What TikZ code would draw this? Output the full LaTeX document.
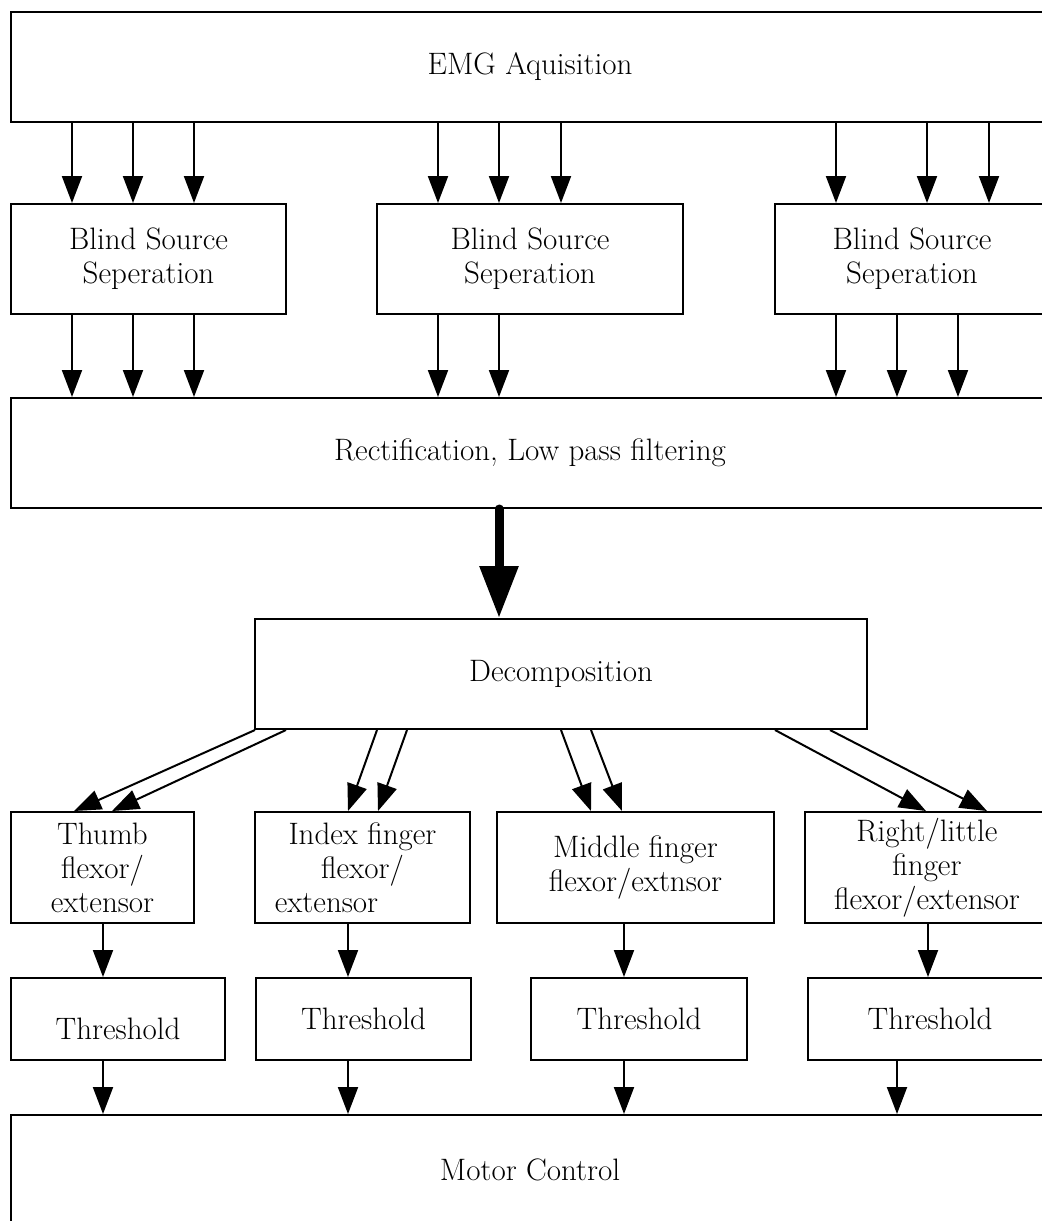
\documentclass[tikz,border=0pt]{standalone}
\usetikzlibrary{arrows.meta,positioning}
\tikzset{
  blk/.style={draw, line width=1pt, align=center, inner sep=0pt, font=\fontsize{15.5}{17}\selectfont},
  arr/.style={line width=1pt, -{Triangle[width=10pt,length=13.5pt]}},
  fatarr/.style={line width=4.5pt, line cap=round, -{Triangle[width=18.5pt,length=26pt]}}
}
\begin{document}
\begin{tikzpicture}[x=0.5pt, y=-0.5pt]
				\useasboundingbox (0,0) rectangle (1042,1221);
				\clip (0,0) rectangle (1042,1221);
				% boxes
				\node[blk, minimum width=519pt, minimum height=55pt] (emg) at (530,67) {EMG Aquisition};
				\node[blk, minimum width=137.5pt, minimum height=55pt] (bss1) at (148.5,259) {Blind Source\\Seperation};
				\node[blk, minimum width=153pt, minimum height=55pt] (bss2) at (530,259) {Blind Source\\Seperation};
				\node[blk, minimum width=137pt, minimum height=55pt] (bss3) at (912,259) {Blind Source\\Seperation};
				\node[blk, minimum width=519pt, minimum height=55pt] (rect) at (530,453) {Rectification, Low pass filtering};
				\node[blk, minimum width=306pt, minimum height=55pt] (decomp) at (561,674) {Decomposition};
				\node[blk, minimum width=91.5pt, minimum height=55.5pt] (thumb) at (102.5,867.5) {Thumb\\flexor/\\extensor};
				\node[blk, minimum width=107.5pt, minimum height=55.5pt] (index) at (362.5,867.5) {Index finger\\flexor/\\extensor\hspace*{36pt}};
				\node[blk, minimum width=138.5pt, minimum height=55.5pt] (middle) at (635.5,867.5) {Middle finger\\flexor/extnsor};
				\node[blk, minimum width=122pt, minimum height=55.5pt] (little) at (927,867.5) {Right/little\\finger\\flexor/extensor};
				\node[blk, minimum width=107pt, minimum height=41pt, text height=21pt] (th1) at (118,1019) {Threshold};
				\node[blk, minimum width=107.5pt, minimum height=41pt] (th2) at (363.5,1019) {Threshold};
				\node[blk, minimum width=108pt, minimum height=41pt] (th3) at (639,1019) {Threshold};
				\node[blk, minimum width=122pt, minimum height=41pt] (th4) at (930,1019) {Threshold};
				\node[blk, minimum width=519pt, minimum height=55pt] (motor) at (530,1170) {Motor Control};
				% acquisition to separation
				\draw[arr] (emg.south -| 72,0) -- (bss1.north -| 72,0);
				\draw[arr] (emg.south -| 133,0) -- (bss1.north -| 133,0);
				\draw[arr] (emg.south -| 194,0) -- (bss1.north -| 194,0);
				\draw[arr] (emg.south -| 438,0) -- (bss2.north -| 438,0);
				\draw[arr] (emg.south -| 499,0) -- (bss2.north -| 499,0);
				\draw[arr] (emg.south -| 561,0) -- (bss2.north -| 561,0);
				\draw[arr] (emg.south -| 836,0) -- (bss3.north -| 836,0);
				\draw[arr] (emg.south -| 927,0) -- (bss3.north -| 927,0);
				\draw[arr] (emg.south -| 989,0) -- (bss3.north -| 989,0);
				% separation to rectification
				\draw[arr] (bss1.south -| 72,0) -- (rect.north -| 72,0);
				\draw[arr] (bss1.south -| 133,0) -- (rect.north -| 133,0);
				\draw[arr] (bss1.south -| 194,0) -- (rect.north -| 194,0);
				\draw[arr] (bss2.south -| 438,0) -- (rect.north -| 438,0);
				\draw[arr] (bss2.south -| 499,0) -- (rect.north -| 499,0);
				\draw[arr] (bss3.south -| 836,0) -- (rect.north -| 836,0);
				\draw[arr] (bss3.south -| 897,0) -- (rect.north -| 897,0);
				\draw[arr] (bss3.south -| 958,0) -- (rect.north -| 958,0);
				\draw[fatarr] (rect.south -| 499,0) -- (decomp.north -| 499,0);
				% decomposition to fingers
				\draw[arr] (decomp.south -| 255,0) -- (thumb.north -| 74,0);
				\draw[arr] (decomp.south -| 286,0) -- (thumb.north -| 112,0);
				\draw[arr] (decomp.south -| 377,0) -- (index.north -| 348,0);
				\draw[arr] (decomp.south -| 407,0) -- (index.north -| 378,0);
				\draw[arr] (decomp.south -| 561,0) -- (middle.north -| 591,0);
				\draw[arr] (decomp.south -| 591,0) -- (middle.north -| 622,0);
				\draw[arr] (decomp.south -| 775,0) -- (little.north -| 926,0);
				\draw[arr] (decomp.south -| 830,0) -- (little.north -| 987,0);
				% fingers to threshold to motor
				\draw[arr] (thumb.south -| 103,0) -- (th1.north -| 103,0);
				\draw[arr] (index.south -| 348,0) -- (th2.north -| 348,0);
				\draw[arr] (middle.south -| 624,0) -- (th3.north -| 624,0);
				\draw[arr] (little.south -| 928,0) -- (th4.north -| 928,0);
				\draw[arr] (th1.south -| 103,0) -- (motor.north -| 103,0);
				\draw[arr] (th2.south -| 348,0) -- (motor.north -| 348,0);
				\draw[arr] (th3.south -| 624,0) -- (motor.north -| 624,0);
				\draw[arr] (th4.south -| 897,0) -- (motor.north -| 897,0);
\end{tikzpicture}
\end{document}
